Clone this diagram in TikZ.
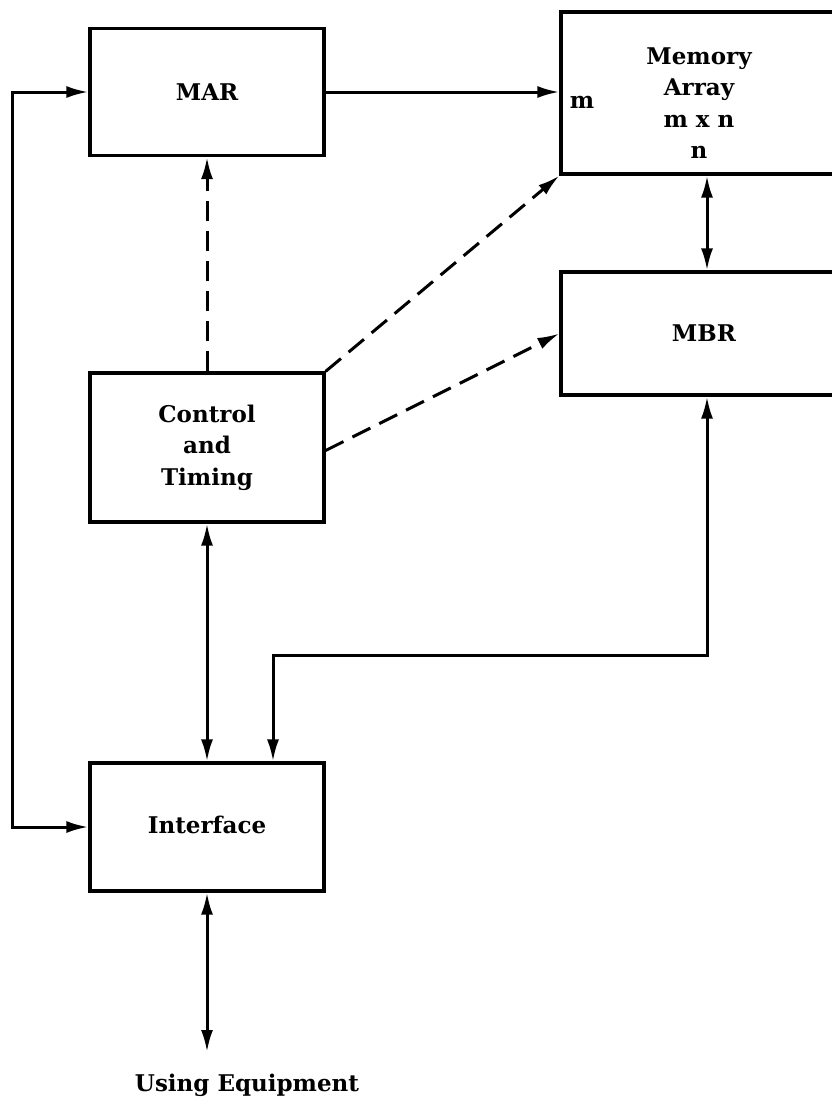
\documentclass[tikz,border=0pt]{standalone}
\usepackage{fontspec}
\setmainfont{DejaVu Serif}
\usetikzlibrary{arrows.meta,calc}
\begin{document}
\begin{tikzpicture}[x=1pt,y=-1pt,
  box/.style={draw,line width=3.2pt,inner sep=0pt,align=center,font=\fontsize{23}{31.5}\selectfont\bfseries},
  lbl/.style={inner sep=0pt,align=center,font=\fontsize{23}{31.5}\selectfont\bfseries},
  conn/.style={line width=3pt},
  tip/.style={-{Latex[length=22pt,width=12pt]}},
  dtip/.style={{Latex[length=22pt,width=12pt]}-{Latex[length=22pt,width=12pt]}},
  dashline/.style={line width=3pt,dash pattern=on 20pt off 10pt}]
\useasboundingbox (0,0) rectangle (832,1104);
\clip (0,0) rectangle (832,1104);
% boxes
\node[box,minimum width=234pt,minimum height=127pt] (mar) at (207,92) {MAR};
\node[box,minimum width=286pt,minimum height=162pt] (mem) at (704,93) {};
\node[lbl] (memtxt) at (699,103) {Memory\\Array\\m x n\\n};
\node[box,minimum width=286pt,minimum height=123pt] (mbr) at (704,333.5) {\raisebox{-4pt}{MBR}};
\node[box,minimum width=234pt,minimum height=149pt] (ctl) at (207,447.5) {Control\\and\\Timing};
\node[box,minimum width=234pt,minimum height=128pt] (intf) at (207,827) {\raisebox{5pt}{Interface}};
\node[lbl] (mlab) at (582,102) {m};
\node[lbl] (ue) at (247,1085) {Using Equipment};
\coordinate (bus) at (12,0);
\coordinate (uetop) at (207,1052);
\coordinate (mbrdown) at (707,655);
\coordinate (intfin) at (273,655);
\coordinate (ctlout) at ($(ctl.east)+(0,3)$);
% solid connectors
\draw[conn,tip] (mar.east) -- (mar.east -| mem.west);
\draw[conn,dtip] (mar.west) -- (mar.west -| bus) -- (intf.west -| bus) -- (intf.west);
\draw[conn,dtip] (mem.south -| mbrdown) -- (mbr.north -| mbrdown);
\draw[conn,dtip] (mbr.south -| mbrdown) -- (mbrdown) -- (intfin) -- (intfin |- intf.north);
\draw[conn,dtip] (ctl.south) -- (intf.north);
\draw[conn,dtip] (intf.south) -- (uetop);
% dashed control lines
\draw[dashline,tip] (ctl.north) -- (mar.south);
\draw[dashline,tip] (ctl.north east) -- (mem.south west);
\draw[dashline,tip] (ctlout) -- (mbr.west);
\end{tikzpicture}
\end{document}
